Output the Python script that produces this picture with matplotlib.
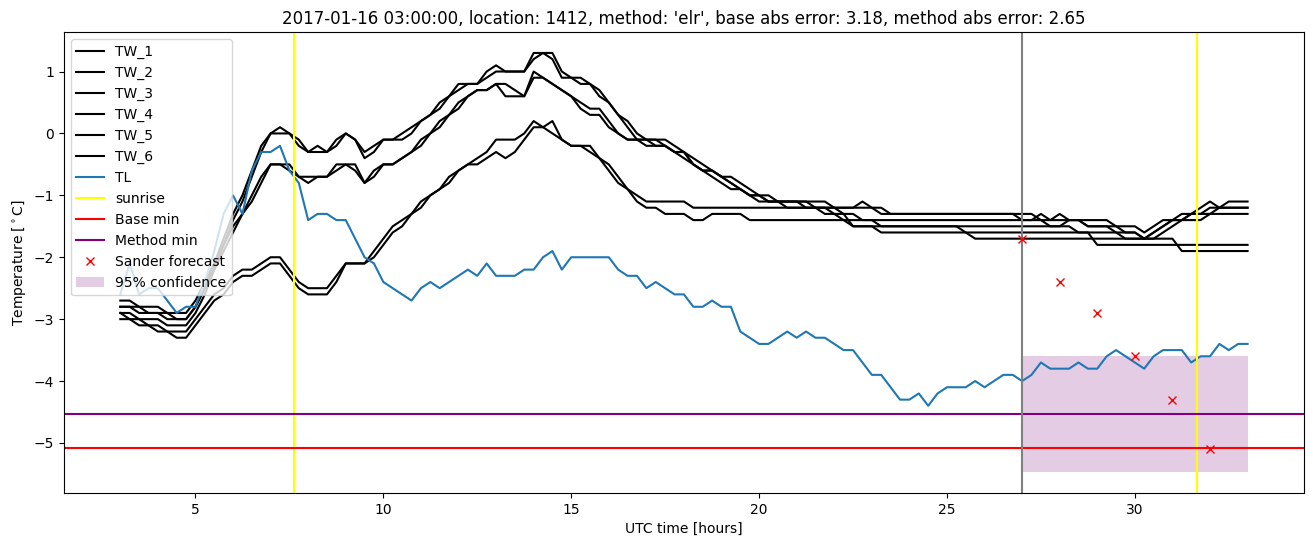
import numpy as np
import matplotlib
matplotlib.use("Agg")
import matplotlib.pyplot as plt

# time axis: 03:00 on day 1 to 09:00 on day 2, every 15 min
hours = np.arange(3.0, 33.01, 0.25)

# air temperature (TL)
tl = [
    -2.6, -2.1, -2.6, -2.5, -2.5, -2.7, -2.9, -2.8,
    -2.8, -2.4, -1.9, -1.3, -1.0, -1.3, -0.6, -0.3,
    -0.3, -0.2, -0.6, -0.8, -1.4, -1.3, -1.3, -1.4,
    -1.4, -1.7, -2.0, -2.1, -2.4, -2.5, -2.6, -2.7,
    -2.5, -2.4, -2.5, -2.4, -2.3, -2.2, -2.3, -2.1,
    -2.3, -2.3, -2.3, -2.2, -2.2, -2.0, -1.9, -2.2,
    -2.0, -2.0, -2.0, -2.0, -2.0, -2.2, -2.3, -2.3,
    -2.5, -2.4, -2.5, -2.6, -2.6, -2.8, -2.8, -2.7,
    -2.8, -2.8, -3.2, -3.3, -3.4, -3.4, -3.3, -3.2,
    -3.3, -3.2, -3.3, -3.3, -3.4, -3.5, -3.5, -3.7,
    -3.9, -3.9, -4.1, -4.3, -4.3, -4.2, -4.4, -4.2,
    -4.1, -4.1, -4.1, -4.0, -4.1, -4.0, -3.9, -3.9,
    -4.0, -3.9, -3.7, -3.8, -3.8, -3.8, -3.7, -3.8,
    -3.8, -3.6, -3.5, -3.6, -3.7, -3.8, -3.6, -3.5,
    -3.5, -3.5, -3.7, -3.6, -3.6, -3.4, -3.5, -3.4,
    -3.4,
]

# road / wet-bulb sensors TW_1 .. TW_6
tw_1 = [
    -2.8, -2.8, -2.9, -2.9, -2.9, -3.0, -3.0, -3.0,
    -2.8, -2.5, -2.1, -1.7, -1.3, -1.0, -0.6, -0.2,
    0.0, 0.1, 0.0, -0.1, -0.3, -0.2, -0.3, -0.1,
    0.0, -0.1, -0.3, -0.2, -0.1, -0.1, 0.0, 0.1,
    0.2, 0.3, 0.5, 0.6, 0.8, 0.8, 0.8, 1.0,
    1.1, 1.0, 1.0, 1.0, 1.3, 1.3, 1.2, 0.9,
    0.9, 0.9, 0.8, 0.6, 0.5, 0.3, 0.1, -0.1,
    -0.1, -0.1, -0.2, -0.3, -0.3, -0.5, -0.6, -0.6,
    -0.7, -0.8, -0.9, -1.0, -1.0, -1.1, -1.1, -1.1,
    -1.1, -1.1, -1.1, -1.1, -1.2, -1.2, -1.2, -1.1,
    -1.2, -1.2, -1.3, -1.3, -1.3, -1.3, -1.3, -1.3,
    -1.3, -1.3, -1.3, -1.3, -1.3, -1.3, -1.3, -1.3,
    -1.4, -1.4, -1.3, -1.4, -1.4, -1.4, -1.4, -1.4,
    -1.4, -1.4, -1.5, -1.5, -1.5, -1.6, -1.5, -1.4,
    -1.4, -1.3, -1.3, -1.2, -1.1, -1.2, -1.1, -1.1,
    -1.1,
]
tw_2 = [
    -2.9, -2.9, -3.0, -3.0, -3.0, -3.1, -3.1, -3.1,
    -2.9, -2.6, -2.2, -1.8, -1.4, -1.1, -0.7, -0.3,
    0.0, 0.0, 0.0, -0.2, -0.3, -0.3, -0.3, -0.2,
    0.0, -0.1, -0.4, -0.3, -0.1, -0.1, -0.1, 0.0,
    0.2, 0.3, 0.4, 0.6, 0.7, 0.8, 0.8, 0.9,
    1.0, 1.0, 1.0, 1.0, 1.2, 1.3, 1.3, 1.0,
    0.9, 0.8, 0.8, 0.7, 0.5, 0.3, 0.2, 0.0,
    -0.1, -0.1, -0.1, -0.2, -0.3, -0.4, -0.5, -0.6,
    -0.7, -0.7, -0.8, -0.9, -1.0, -1.0, -1.1, -1.1,
    -1.1, -1.1, -1.2, -1.2, -1.2, -1.2, -1.2, -1.2,
    -1.2, -1.3, -1.3, -1.3, -1.3, -1.3, -1.3, -1.3,
    -1.3, -1.3, -1.3, -1.3, -1.3, -1.3, -1.3, -1.3,
    -1.3, -1.3, -1.4, -1.4, -1.3, -1.4, -1.4, -1.5,
    -1.5, -1.5, -1.5, -1.6, -1.6, -1.7, -1.6, -1.5,
    -1.4, -1.4, -1.3, -1.3, -1.2, -1.2, -1.2, -1.2,
    -1.2,
]
tw_3 = [
    -2.7, -2.7, -2.8, -2.8, -2.8, -2.9, -2.9, -2.9,
    -2.7, -2.4, -2.1, -1.8, -1.5, -1.3, -1.0, -0.7,
    -0.5, -0.5, -0.5, -0.7, -0.8, -0.7, -0.7, -0.6,
    -0.5, -0.5, -0.8, -0.6, -0.5, -0.5, -0.4, -0.3,
    -0.1, 0.0, 0.2, 0.3, 0.5, 0.6, 0.7, 0.7,
    0.8, 0.6, 0.6, 0.6, 1.0, 0.9, 0.8, 0.7,
    0.6, 0.5, 0.4, 0.4, 0.2, 0.0, -0.1, -0.1,
    -0.2, -0.2, -0.2, -0.3, -0.4, -0.5, -0.6, -0.7,
    -0.8, -0.9, -0.9, -1.0, -1.1, -1.1, -1.1, -1.2,
    -1.2, -1.2, -1.2, -1.3, -1.3, -1.4, -1.4, -1.4,
    -1.4, -1.4, -1.4, -1.4, -1.4, -1.4, -1.4, -1.4,
    -1.4, -1.4, -1.4, -1.4, -1.4, -1.4, -1.4, -1.4,
    -1.4, -1.4, -1.4, -1.5, -1.5, -1.4, -1.4, -1.5,
    -1.5, -1.5, -1.6, -1.6, -1.6, -1.7, -1.6, -1.5,
    -1.4, -1.4, -1.3, -1.3, -1.3, -1.2, -1.2, -1.2,
    -1.2,
]
tw_4 = [
    -2.8, -2.8, -2.8, -2.9, -2.9, -2.9, -3.0, -3.0,
    -2.8, -2.5, -2.2, -1.9, -1.6, -1.3, -1.1, -0.8,
    -0.5, -0.5, -0.6, -0.7, -0.7, -0.7, -0.7, -0.5,
    -0.5, -0.6, -0.8, -0.7, -0.5, -0.5, -0.4, -0.3,
    -0.2, 0.0, 0.1, 0.3, 0.4, 0.6, 0.7, 0.7,
    0.8, 0.8, 0.7, 0.6, 0.9, 0.9, 0.8, 0.7,
    0.6, 0.4, 0.3, 0.3, 0.1, 0.0, -0.1, -0.1,
    -0.1, -0.2, -0.2, -0.3, -0.3, -0.5, -0.6, -0.6,
    -0.7, -0.8, -0.9, -1.0, -1.0, -1.1, -1.1, -1.1,
    -1.1, -1.2, -1.2, -1.2, -1.3, -1.3, -1.3, -1.4,
    -1.4, -1.5, -1.5, -1.5, -1.5, -1.5, -1.5, -1.5,
    -1.5, -1.5, -1.5, -1.5, -1.5, -1.5, -1.5, -1.5,
    -1.5, -1.5, -1.5, -1.5, -1.5, -1.5, -1.6, -1.6,
    -1.6, -1.6, -1.6, -1.7, -1.7, -1.7, -1.7, -1.6,
    -1.5, -1.4, -1.4, -1.4, -1.3, -1.3, -1.3, -1.3,
    -1.3,
]
tw_5 = [
    -2.9, -3.0, -3.0, -3.1, -3.1, -3.2, -3.2, -3.2,
    -3.0, -2.8, -2.6, -2.5, -2.3, -2.2, -2.2, -2.1,
    -2.0, -2.0, -2.2, -2.4, -2.5, -2.5, -2.5, -2.3,
    -2.1, -2.1, -2.1, -1.9, -1.7, -1.5, -1.4, -1.3,
    -1.1, -1.0, -0.9, -0.7, -0.6, -0.5, -0.4, -0.3,
    -0.1, -0.1, -0.1, 0.0, 0.2, 0.1, 0.2, -0.1,
    -0.2, -0.2, -0.2, -0.4, -0.5, -0.7, -0.9, -1.0,
    -1.1, -1.1, -1.1, -1.1, -1.1, -1.2, -1.2, -1.2,
    -1.2, -1.2, -1.2, -1.2, -1.2, -1.2, -1.2, -1.2,
    -1.2, -1.2, -1.2, -1.2, -1.2, -1.3, -1.5, -1.5,
    -1.5, -1.5, -1.5, -1.5, -1.5, -1.5, -1.5, -1.5,
    -1.5, -1.5, -1.6, -1.6, -1.6, -1.6, -1.6, -1.6,
    -1.6, -1.6, -1.6, -1.6, -1.6, -1.6, -1.6, -1.6,
    -1.8, -1.8, -1.8, -1.8, -1.8, -1.8, -1.8, -1.8,
    -1.8, -1.8, -1.8, -1.8, -1.8, -1.8, -1.8, -1.8,
    -1.8,
]
tw_6 = [
    -3.0, -3.0, -3.1, -3.1, -3.2, -3.2, -3.3, -3.3,
    -3.1, -2.9, -2.7, -2.6, -2.4, -2.3, -2.3, -2.2,
    -2.1, -2.1, -2.3, -2.5, -2.6, -2.6, -2.6, -2.4,
    -2.1, -2.1, -2.1, -2.0, -1.8, -1.6, -1.5, -1.3,
    -1.2, -1.0, -0.9, -0.8, -0.6, -0.5, -0.5, -0.4,
    -0.3, -0.4, -0.3, -0.1, 0.1, 0.1, 0.0, -0.1,
    -0.2, -0.2, -0.3, -0.4, -0.6, -0.8, -0.9, -1.1,
    -1.2, -1.2, -1.3, -1.3, -1.3, -1.4, -1.4, -1.3,
    -1.3, -1.3, -1.3, -1.4, -1.4, -1.4, -1.4, -1.4,
    -1.4, -1.4, -1.4, -1.4, -1.4, -1.4, -1.5, -1.5,
    -1.5, -1.6, -1.6, -1.6, -1.6, -1.6, -1.6, -1.6,
    -1.6, -1.6, -1.6, -1.7, -1.7, -1.7, -1.7, -1.7,
    -1.7, -1.7, -1.7, -1.7, -1.7, -1.7, -1.7, -1.7,
    -1.7, -1.7, -1.7, -1.7, -1.7, -1.7, -1.7, -1.7,
    -1.7, -1.9, -1.9, -1.9, -1.9, -1.9, -1.9, -1.9,
    -1.9,
]
tw_series = [tw_1, tw_2, tw_3, tw_4, tw_5, tw_6]

# hourly forecast after the forecast start
forecast_hours = [27, 28, 29, 30, 31, 32]
sander_forecast = [-1.7, -2.4, -2.9, -3.6, -4.3, -5.1]

sunrise_hours = [7.63, 31.65]
forecast_start = 27.0
base_min = -5.08
method_min = -4.53
conf_hours = [27.0, 33.0]
conf_low = -5.47
conf_high = -3.6

fig, ax = plt.subplots(figsize=(13.13, 5.47), dpi=100)
fig.subplots_adjust(left=0.0487, right=0.9931, top=0.9415, bottom=0.0987)

for i, tw in enumerate(tw_series):
    ax.plot(hours, tw, color="black", label=f"TW_{i + 1}")

ax.plot(hours, tl, label="TL")

ax.axvline(sunrise_hours[0], color="yellow", label="sunrise")
ax.axvline(sunrise_hours[1], color="yellow")

ax.axhline(base_min, color="red", label="Base min")
ax.axhline(method_min, color="purple", label="Method min")

# forecast start
ax.axvline(forecast_start, color="grey")

ax.plot(forecast_hours, sander_forecast, "x", color="red", label="Sander forecast")

ax.fill_between(conf_hours, conf_low, conf_high, color="purple", alpha=0.2,
                linewidth=0, label="95% confidence")

ax.set_xlabel("UTC time [hours]")
ax.set_ylabel(r"Temperature [$^\circ$C]")
ax.set_title("2017-01-16 03:00:00, location: 1412, method: 'elr', "
             "base abs error: 3.18, method abs error: 2.65")
ax.legend(loc="upper left")

fig.savefig("out.png", dpi=100)
